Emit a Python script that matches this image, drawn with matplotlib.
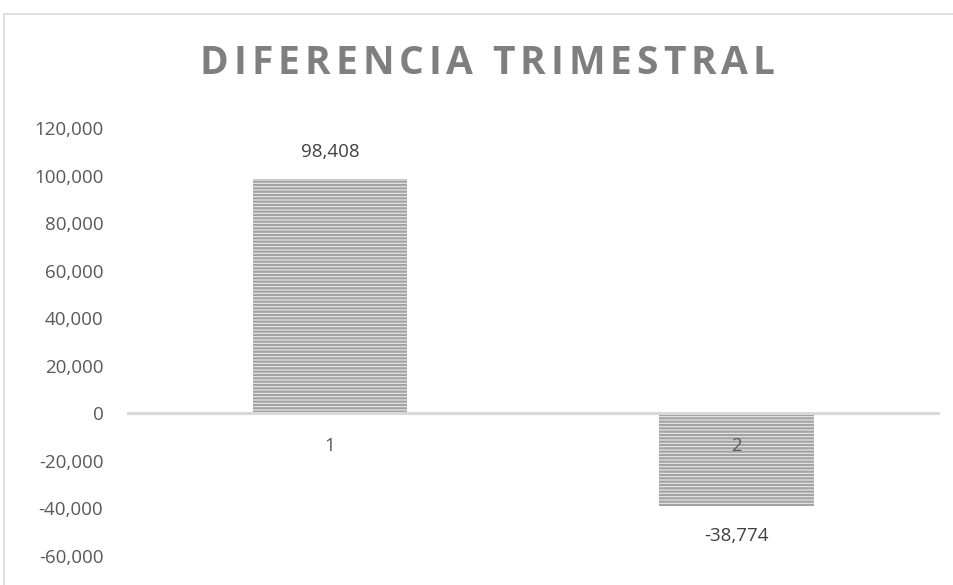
import matplotlib.pyplot as plt
from matplotlib.patches import Rectangle

# chart data
categories = ["1", "2"]
values = [98408, -38774]
value_labels = ["98,408", "-38,774"]
y_ticks = [-60000, -40000, -20000, 0, 20000, 40000, 60000, 80000, 100000, 120000]
title = "DIFERENCIA TRIMESTRAL"

plt.rcParams['font.family'] = ['Open Sans', 'DejaVu Sans']
plt.rcParams['hatch.linewidth'] = 1.6

fig = plt.figure(figsize=(9.54, 5.85), dpi=100)
ax = fig.add_axes([0.133, 0.0496, 0.852, 0.7315])

# outer chart border
fig.patches.append(Rectangle((4 / 954, -0.1), 1.2, 1 - 14 / 585 + 0.1,
                             transform=fig.transFigure, fill=False,
                             edgecolor='#d9d9d9', linewidth=1.2))

x = list(range(len(categories)))
ax.bar(x, values, width=0.38, facecolor='#e8e8e8', edgecolor='#a3a3a3',
       linewidth=0, hatch='-----')

ax.set_xlim(-0.5, 1.5)
ax.set_ylim(-60000, 120000)
ax.axhline(0, color='#d9d9d9', linewidth=2.2, zorder=3)

ax.set_yticks(y_ticks)
ax.set_yticklabels([f"{t:,}" for t in y_ticks], fontsize=13.5, color='#595959')
ax.tick_params(axis='y', length=0, pad=17)
ax.set_xticks([])
for s in ax.spines.values():
    s.set_visible(False)

# category labels sit just under the zero line
for xi, cat in zip(x, categories):
    ax.text(xi, -13900, cat, ha='center', va='center', fontsize=13.5,
            color='#595959', zorder=4)

# data labels
for xi, v, lab in zip(x, values, value_labels):
    off = 11700 if v > 0 else -12900
    ax.text(xi, v + off, lab, ha='center', va='center', fontsize=13.5,
            color='#404040')

# title with wide letter spacing, spread between x=200 and x=775 px
renderer = fig.canvas.get_renderer()
widths = []
for ch in title:
    if ch == " ":
        widths.append(9)
        continue
    t = fig.text(0, 0, ch, fontsize=28, fontweight='bold')
    widths.append(t.get_window_extent(renderer).width)
    t.remove()
left_px, right_px = 200, 775
gap = (right_px - left_px - sum(widths)) / (len(title) - 1)
cur = left_px
for ch, w in zip(title, widths):
    if ch != " ":
        fig.text(cur / 954, 1 - 63 / 585, ch, ha='left', va='center',
                 fontsize=28, fontweight='bold', color='#7f7f7f')
    cur += w + gap

fig.savefig("out.png", dpi=100)
